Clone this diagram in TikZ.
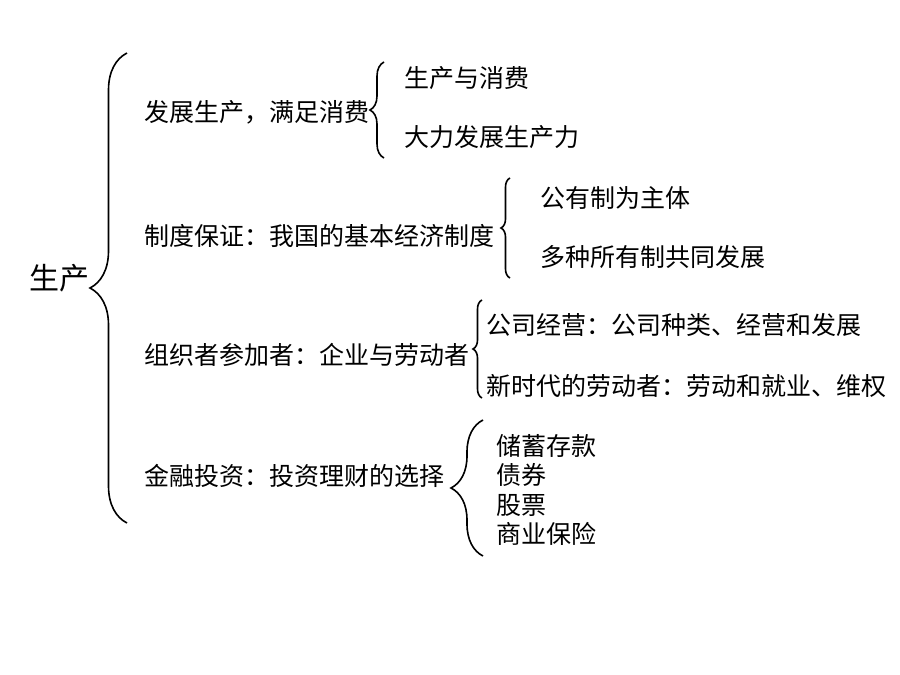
\documentclass[tikz,border=0pt]{standalone}
\usepackage{fontspec}
\setmainfont{Noto Sans CJK SC}
\usetikzlibrary{decorations.pathreplacing}

\tikzset{
  item/.style={right, inner sep=0pt, font=\fontsize{25}{28}\selectfont},
  curly/.style={line width=1.6pt, decorate, decoration={brace, amplitude=#1}},
}

\begin{document}
\begin{tikzpicture}[x=1pt, y=-1pt]
  \useasboundingbox (0, 0) rectangle (900, 675);

  \node (prod) at (29, 278) [right, inner sep=0pt, font=\fontsize{30}{34}\selectfont] {生产};
  \draw [curly=37] (127, 523) -- (127, 53);

  \node (dev) at (144, 112) [item] {发展生产，满足消费};
  \draw [curly=14] (384, 158) -- (384, 62);
  \node (devA) at (404, 78) [item] {生产与消费};
  \node (devB) at (404, 137) [item] {大力发展生产力};

  \node (sys) at (144, 236) [item] {制度保证：我国的基本经济制度};
  \draw [curly=9] (510, 278) -- (510, 178);
  \node (sysA) at (540, 198) [item] {公有制为主体};
  \node (sysB) at (540, 257) [item] {多种所有制共同发展};

  \node (org) at (144, 355) [item] {组织者参加者：企业与劳动者};
  \draw [curly=9] (482, 398) -- (482, 300);
  \node (orgA) at (486, 325) [item] {公司经营：公司种类、经营和发展};
  \node (orgB) at (486, 386) [item] {新时代的劳动者：劳动和就业、维权};

  \node (fin) at (144, 476) [item] {金融投资：投资理财的选择};
  \draw [curly=32] (483, 556) -- (483, 420);
  \node (finA) at (496, 446) [item] {储蓄存款};
  \node (finB) at (496, 475) [item] {债券};
  \node (finC) at (496, 505) [item] {股票};
  \node (finD) at (496, 534) [item] {商业保险};
\end{tikzpicture}
\end{document}
